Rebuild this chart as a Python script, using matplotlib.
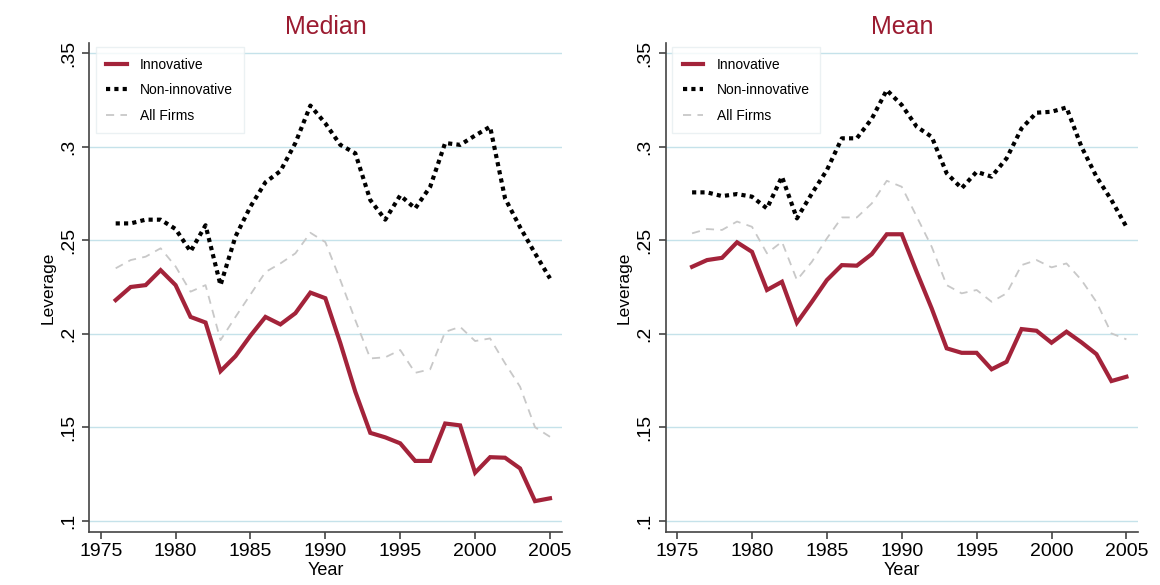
import matplotlib.pyplot as plt

# dados
years = list(range(1976, 2006))

median_innov = [0.218, 0.225, 0.226, 0.234, 0.226, 0.209, 0.206, 0.180, 0.188, 0.199,
                0.209, 0.205, 0.211, 0.222, 0.219, 0.195, 0.169, 0.147, 0.1446, 0.1414,
                0.132, 0.132, 0.152, 0.151, 0.1257, 0.134, 0.1337, 0.128, 0.1105, 0.112]
median_noninnov = [0.259, 0.259, 0.261, 0.261, 0.256, 0.244, 0.258, 0.226, 0.252, 0.268,
                   0.281, 0.287, 0.302, 0.322, 0.3125, 0.301, 0.2965, 0.2715, 0.261, 0.274,
                   0.267, 0.2786, 0.302, 0.301, 0.306, 0.3107, 0.2724, 0.257, 0.243, 0.2296]
median_all = [0.235, 0.2394, 0.2412, 0.2457, 0.236, 0.2225, 0.226, 0.1966, 0.209, 0.221,
              0.233, 0.2376, 0.243, 0.254, 0.249, 0.2287, 0.2073, 0.1868, 0.1874, 0.1913,
              0.1791, 0.181, 0.201, 0.2037, 0.1961, 0.1975, 0.1842, 0.1717, 0.150, 0.1449]

mean_innov = [0.2358, 0.2394, 0.2406, 0.2489, 0.2438, 0.2234, 0.2278, 0.2059, 0.2171, 0.2287,
              0.2367, 0.2364, 0.2426, 0.2532, 0.2532, 0.233, 0.2135, 0.1922, 0.1898, 0.1898,
              0.181, 0.185, 0.2025, 0.2016, 0.1952, 0.2011, 0.1954, 0.1891, 0.1747, 0.177]
mean_noninnov = [0.2756, 0.2756, 0.2736, 0.2747, 0.2733, 0.267, 0.284, 0.2617, 0.275, 0.2875,
                 0.3045, 0.3045, 0.315, 0.3303, 0.3223, 0.3107, 0.3053, 0.2858, 0.2778, 0.2866,
                 0.284, 0.2938, 0.3098, 0.3182, 0.3187, 0.321, 0.300, 0.284, 0.2715, 0.2572]
mean_all = [0.2537, 0.256, 0.2555, 0.260, 0.2572, 0.243, 0.2492, 0.2287, 0.2385, 0.251,
            0.2622, 0.2622, 0.2697, 0.2818, 0.2786, 0.2626, 0.2465, 0.226, 0.2216, 0.2234,
            0.2171, 0.2216, 0.2367, 0.2394, 0.2355, 0.2376, 0.2287, 0.217, 0.2002, 0.197]

yticks = [0.1, 0.15, 0.2, 0.25, 0.3, 0.35]
ytick_labels = ['.1', '.15', '.2', '.25', '.3', '.35']
xticks = [1975, 1980, 1985, 1990, 1995, 2000, 2005]

red = '#a3233a'
grid_col = '#c5e2ea'
spine_col = '#444444'

plt.rcParams['font.family'] = ['Liberation Sans', 'DejaVu Sans']

fig = plt.figure(figsize=(11.6, 5.85), dpi=100)
ax1 = fig.add_axes([0.077, 0.090, 0.4072, 0.8369])
ax2 = fig.add_axes([0.5739, 0.090, 0.4072, 0.8369])

panels = [
    (ax1, 'Median', median_innov, median_noninnov, median_all),
    (ax2, 'Mean', mean_innov, mean_noninnov, mean_all),
]

for ax, title, innov, noninnov, allf in panels:
    for yt in yticks:
        ax.axhline(yt, color=grid_col, lw=1.0, zorder=0)
    ax.plot(years, innov, color=red, lw=3.0, label='Innovative', zorder=3,
            solid_joinstyle='miter')
    ax.plot(years, noninnov, color='black', lw=3.0, dashes=(1, 1),
            dash_capstyle='butt', label='Non-innovative', zorder=3)
    ax.plot(years, allf, color='#c8c8c8', lw=1.3, dashes=(4.5, 3.5),
            label='All Firms', zorder=2)

    ax.set_xlim(1974.24, 2005.78)
    ax.set_ylim(0.0938, 0.3556)
    ax.set_xticks(xticks)
    ax.set_yticks(yticks)
    ax.set_yticklabels(ytick_labels, rotation=90, va='center')
    ax.tick_params(axis='both', labelsize=14, length=5, width=1.2,
                   color=spine_col, direction='out', pad=3)
    ax.tick_params(axis='y', pad=4)
    for side in ['top', 'right']:
        ax.spines[side].set_visible(False)
    for side in ['left', 'bottom']:
        ax.spines[side].set_color(spine_col)
        ax.spines[side].set_linewidth(1.2)
    ax.set_xlabel('Year', fontsize=13, labelpad=1)
    ax.set_ylabel('Leverage', fontsize=12.5, labelpad=3)
    ax.set_title(title, color='#9b1b30', fontsize=18, pad=6)

    leg = ax.legend(loc='upper left', fontsize=10, frameon=True, fancybox=False,
                    borderpad=0.75, labelspacing=0.84, handlelength=1.5,
                    handletextpad=0.95, borderaxespad=0,
                    bbox_to_anchor=(0.0135, 0.991))
    leg.get_frame().set_edgecolor('#e6eef0')
    leg.get_frame().set_linewidth(1.0)

plt.savefig('out.png', dpi=100)
plt.close()
